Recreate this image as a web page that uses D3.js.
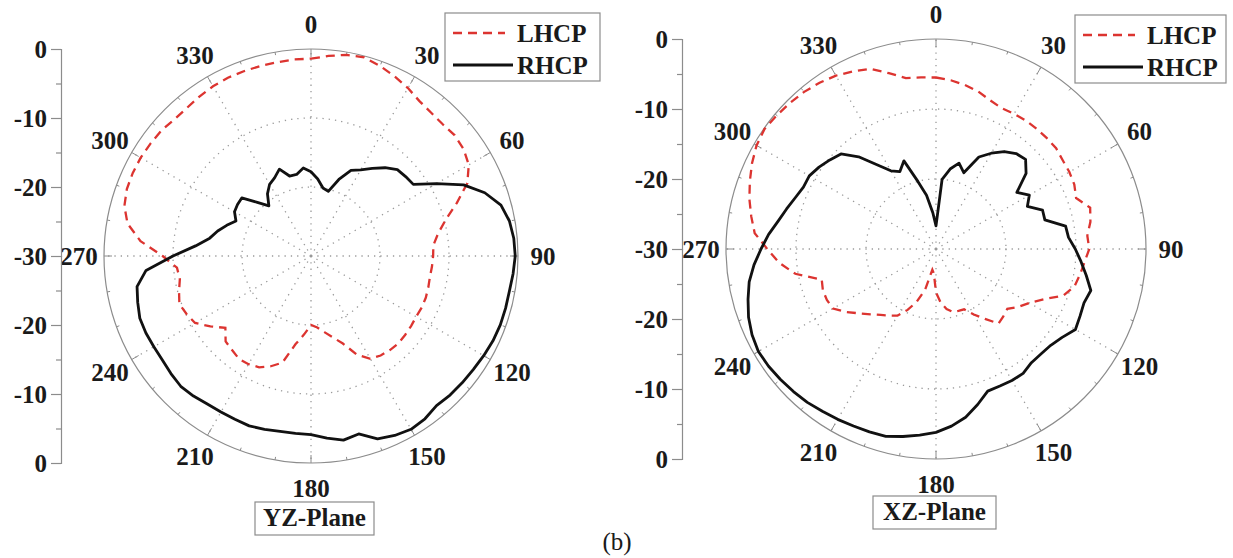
<!DOCTYPE html>
<html>
<head>
<meta charset="utf-8">
<script src="https://cdn.jsdelivr.net/npm/d3@7"></script>
<style>
  body { margin: 0; background: #fff; }
  text { font-family: "Liberation Serif", "Times New Roman", serif; fill: #1a1a1a; }
</style>
</head>
<body>
<div class="polarView"></div>
<script>
// measured pattern, dB, every 5 degrees
var angles = [0,5,10,15,20,25,30,35,40,45,50,55,60,65,70,75,80,85,90,95,100,105,110,115,
  120,125,130,135,140,145,150,155,160,165,170,175,180,185,190,195,200,205,210,215,220,225,230,235,
  240,245,250,255,260,265,270,275,280,285,290,295,300,305,310,315,320,325,330,335,340,345,350,355];

var yzLHCP = [-1.4,-0.9,-0.4,-0.2,-0.7,-1.3,-1.9,-2.6,-2.9,-3.0,-2.8,-3.0,-3.6,-5.0,-7.5,-9.8,-11.3,-12.2,
  -12.3,-12.4,-12.5,-12.4,-12.3,-12.3,-12.4,-12.3,-12.2,-12.1,-12.2,-12.4,-12.8,-14.2,-16.5,-17.8,-18.8,-19.6,
  -20.0,-18.6,-17.0,-14.0,-13.0,-12.2,-11.9,-11.8,-12.2,-12.5,-13.8,-12.2,-10.6,-10.1,-9.7,-10.2,-10.7,-10.5,
  -8.5,-5.2,-3.0,-2.0,-1.6,-1.5,-1.5,-1.6,-1.7,-2.0,-2.0,-1.8,-1.6,-1.5,-1.5,-1.5,-1.5,-1.4];

var yzRHCP = [-17.8,-18.8,-20.0,-20.3,-18.2,-16.3,-15.6,-14.5,-13.3,-12.3,-12.1,-11.9,-9.0,-5.6,-3.2,-1.5,-0.8,-0.5,
  -0.4,-0.6,-0.8,-0.8,-0.8,-0.9,-1.1,-1.3,-1.4,-1.5,-1.7,-1.2,-1.0,-1.3,-1.8,-3.3,-2.9,-3.5,
  -4.1,-4.2,-4.2,-4.0,-3.8,-3.9,-3.9,-3.8,-3.5,-3.3,-3.5,-3.7,-3.7,-3.6,-3.6,-4.0,-4.4,-6.0,
  -10.0,-13.2,-15.1,-16.0,-17.0,-18.0,-17.2,-17.0,-16.9,-19.0,-20.5,-19.0,-18.0,-17.5,-16.6,-18.0,-18.0,-17.2];

var xzLHCP = [-5.5,-5.8,-6.2,-6.7,-7.4,-7.8,-7.7,-7.6,-7.6,-7.6,-7.6,-7.9,-8.0,-8.2,-8.7,-7.2,-7.6,-8.3,
  -8.1,-8.7,-9.1,-9.5,-10.6,-13.0,-14.6,-15.6,-16.7,-16.4,-16.1,-17.8,-19.2,-20.5,-20.6,-20.7,-21.3,-22.3,
  -23.8,-26.5,-27.0,-24.0,-22.0,-20.4,-19.0,-18.4,-17.7,-16.8,-15.7,-14.3,-13.0,-12.8,-12.8,-13.1,-9.6,-7.5,
  -5.9,-4.0,-3.2,-2.4,-1.7,-1.0,-0.4,-0.1,-0.3,-0.5,-0.7,-1.0,-1.4,-2.0,-2.6,-4.0,-5.2,-5.4];

var xzRHCP = [-26.7,-20.0,-18.4,-17.3,-18.4,-15.5,-14.2,-13.0,-12.2,-11.9,-13.2,-15.9,-14.6,-15.6,-13.8,-13.9,-11.2,-11.0,
  -10.1,-9.2,-8.2,-7.1,-7.5,-7.3,-7.0,-8.0,-8.6,-8.8,-8.8,-8.3,-8.3,-8.4,-8.4,-7.0,-5.6,-4.6,
  -3.8,-3.3,-2.8,-2.3,-2.2,-2.1,-1.9,-1.7,-1.4,-1.2,-1.0,-0.8,-0.7,-1.0,-1.5,-2.2,-2.9,-3.9,
  -5.0,-6.0,-7.1,-7.9,-8.6,-9.1,-9.1,-9.6,-10.2,-10.8,-12.8,-15.3,-17.1,-17.8,-16.6,-20.0,-22.2,-24.8];

var dbTicks = [0, -10, -20, -30];
var dbMinor = [-5, -15, -25];
var gridRings = [-10, -20];
var angleTicks = [0, 30, 60, 90, 120, 150, 180, 210, 240, 270, 300, 330];
var seriesNames = ["LHCP", "RHCP"];

var panels = [
  { cx: 311, cy: 256, r: 207, axisX: 61, lhcp: yzLHCP, rhcp: yzRHCP, plane: "YZ-Plane",
    legend: { x: 445, y: 13, w: 155, h: 68 }, box: { x: 255, y: 502, w: 119, h: 33 } },
  { cx: 936, cy: 249, r: 210, axisX: 682, lhcp: xzLHCP, rhcp: xzRHCP, plane: "XZ-Plane",
    legend: { x: 1075, y: 15, w: 151, h: 68 }, box: { x: 873, y: 496, w: 123, h: 33 } }
];

var red = "#dc3430", black = "#111", gray = "#8c8c8c";
var fontSize = "25px";

var svg = d3.select(".polarView").append("svg")
    .attr("width", 1233)
    .attr("height", 558);

var rad = Math.PI / 180;

panels.forEach(function(p) {
  var rScale = d3.scaleLinear().domain([-30, 0]).range([0, p.r]).clamp(true);
  var g = svg.append("g")
      .attr("transform", "translate(" + p.cx + "," + p.cy + ")");

  // dotted rings and spokes
  g.selectAll(".ring")
      .data(gridRings)
      .enter().append("circle")
      .attr("r", function(d) { return rScale(d); })
      .attr("fill", "none")
      .attr("stroke", "#9a9a9a")
      .attr("stroke-width", 1.3)
      .attr("stroke-dasharray", "1.3,5");

  g.selectAll(".spoke")
      .data(angleTicks)
      .enter().append("line")
      .attr("x1", 0).attr("y1", 0)
      .attr("x2", function(d) { return Math.sin(d * rad) * p.r; })
      .attr("y2", function(d) { return -Math.cos(d * rad) * p.r; })
      .attr("stroke", "#9a9a9a")
      .attr("stroke-width", 1.3)
      .attr("stroke-dasharray", "1.3,5");

  g.append("circle")
      .attr("r", p.r)
      .attr("fill", "none")
      .attr("stroke", gray)
      .attr("stroke-width", 1.2);

  // ticks on the rim
  var rimTicks = d3.range(0, 360, 10);
  g.selectAll(".rimtick")
      .data(rimTicks)
      .enter().append("line")
      .attr("x1", function(d) { return Math.sin(d * rad) * p.r; })
      .attr("y1", function(d) { return -Math.cos(d * rad) * p.r; })
      .attr("x2", function(d) { var l = d % 30 === 0 ? 8 : 3; return Math.sin(d * rad) * (p.r - l); })
      .attr("y2", function(d) { var l = d % 30 === 0 ? 8 : 3; return -Math.cos(d * rad) * (p.r - l); })
      .attr("stroke", gray)
      .attr("stroke-width", 1);

  g.selectAll(".anglabel")
      .data(angleTicks)
      .enter().append("text")
      .attr("x", function(d) { return Math.sin(d * rad) * (p.r + 25); })
      .attr("y", function(d) { return -Math.cos(d * rad) * (p.r + 25); })
      .attr("text-anchor", "middle")
      .attr("dominant-baseline", "central")
      .style("font-size", fontSize)
      .style("font-weight", "bold")
      .text(function(d) { return d; });

  var line = d3.lineRadial()
      .angle(function(d, i) { return angles[i] * rad; })
      .radius(function(d) { return rScale(d); })
      .curve(d3.curveLinearClosed);

  g.append("path")
      .datum(p.lhcp)
      .attr("d", line)
      .attr("fill", "none")
      .attr("stroke", red)
      .attr("stroke-width", 2.3)
      .attr("stroke-dasharray", "9,6");

  g.append("path")
      .datum(p.rhcp)
      .attr("d", line)
      .attr("fill", "none")
      .attr("stroke", black)
      .attr("stroke-width", 2.8)
      .attr("stroke-linejoin", "round");

  // dB axis on the left, upper half and lower half
  var yUp = d3.scaleLinear().domain([-30, 0]).range([p.cy, p.cy - p.r]);
  var yDown = d3.scaleLinear().domain([-30, 0]).range([p.cy, p.cy + p.r]);
  [yUp, yDown].forEach(function(y, k) {
    var ax = svg.append("g")
        .attr("class", "axis")
        .attr("transform", "translate(" + p.axisX + ",0)")
        .call(d3.axisLeft(y)
          .tickValues(k === 0 ? dbTicks : dbTicks.slice(0, 3))
          .tickFormat(function(d) { return String(d); })
          .tickSize(10).tickPadding(4))
        .attr("font-family", "Liberation Serif")
        .attr("font-size", 25)
        .attr("font-weight", "bold");
    ax.select(".domain").attr("stroke", gray).attr("stroke-width", 1.2);
    ax.selectAll(".tick line").attr("stroke", gray).attr("stroke-width", 1.2);
    ax.selectAll("text")
        .style("font-size", fontSize)
        .style("font-weight", "bold")
        .attr("fill", "#1a1a1a");
    svg.append("g")
        .attr("transform", "translate(" + p.axisX + ",0)")
        .call(d3.axisLeft(y).tickValues(dbMinor).tickSize(5).tickFormat(""))
        .call(function(s) {
          s.select(".domain").remove();
          s.selectAll(".tick line").attr("stroke", gray).attr("stroke-width", 1.2);
        });
  });

  // legend
  var lg = svg.append("g").attr("transform", "translate(" + p.legend.x + "," + p.legend.y + ")");
  lg.append("rect")
      .attr("width", p.legend.w)
      .attr("height", p.legend.h)
      .attr("fill", "#fff")
      .attr("stroke", gray)
      .attr("stroke-width", 1.2);
  lg.append("line")
      .attr("x1", 8).attr("x2", 60).attr("y1", 20).attr("y2", 20)
      .attr("stroke", red).attr("stroke-width", 2.3).attr("stroke-dasharray", "9,6");
  lg.append("line")
      .attr("x1", 8).attr("x2", 68).attr("y1", 52).attr("y2", 52)
      .attr("stroke", black).attr("stroke-width", 2.8);
  lg.selectAll(".lgtext")
      .data(seriesNames)
      .enter().append("text")
      .attr("x", 72)
      .attr("y", function(d, i) { return 29 + i * 32; })
      .style("font-size", fontSize)
      .style("font-weight", "bold")
      .text(function(d) { return d; });

  // plane caption
  svg.append("rect")
      .attr("x", p.box.x).attr("y", p.box.y)
      .attr("width", p.box.w).attr("height", p.box.h)
      .attr("fill", "#fff")
      .attr("stroke", gray)
      .attr("stroke-width", 1.2);
  svg.append("text")
      .attr("x", p.box.x + p.box.w / 2)
      .attr("y", p.box.y + 24)
      .attr("text-anchor", "middle")
      .style("font-size", fontSize)
      .style("font-weight", "bold")
      .text(p.plane);
});

svg.append("text")
    .attr("x", 617)
    .attr("y", 550)
    .attr("text-anchor", "middle")
    .style("font-size", fontSize)
    .text("(b)");
</script>
</body>
</html>
